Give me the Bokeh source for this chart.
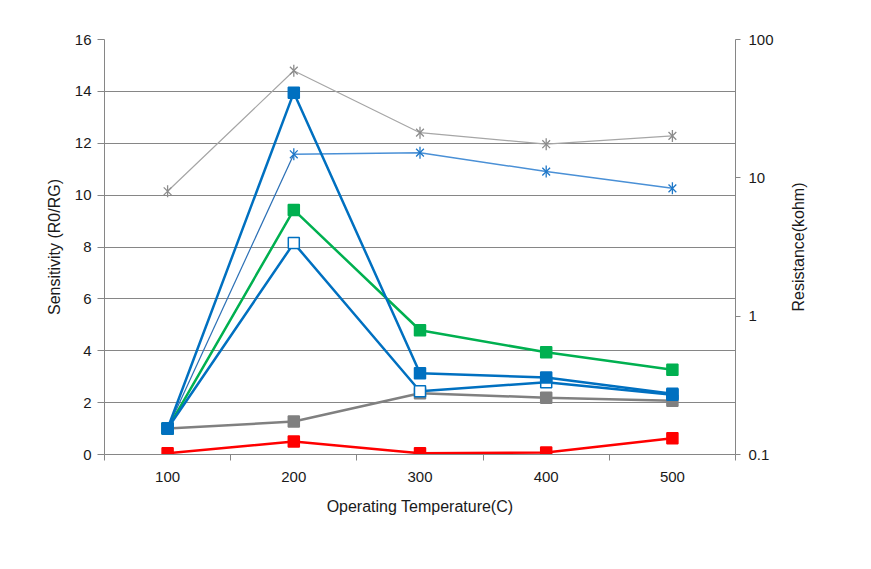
import math
from bokeh.plotting import figure
from bokeh.layouts import row
from bokeh.models import (Range1d, LogScale, LogAxis, FixedTicker, CustomJSTickFormatter,
                          SingleIntervalTicker, Label)
from bokeh.core.validation import silence
from bokeh.core.validation.warnings import MISSING_RENDERERS
from bokeh.embed import file_html
from bokeh.resources import INLINE

silence(MISSING_RENDERERS, True)

temps = [100, 200, 300, 400, 500]
temp_labels = ["100", "200", "300", "400", "500"]

# Sensitivity series (left axis)
sens_blue_filled = [1.0, 13.95, 3.13, 2.97, 2.34]
sens_blue_open = [1.0, 8.15, 2.44, 2.79, 2.30]
sens_green = [1.0, 9.43, 4.79, 3.94, 3.27]
sens_gray = [1.0, 1.27, 2.36, 2.19, 2.07]
sens_red = [0.05, 0.50, 0.05, 0.08, 0.63]

# Resistance series (right axis, kohm, log)
res_gray = [8.0, 59.5, 21.2, 17.5, 20.1]
res_blue = [0.154, 14.8, 15.2, 11.1, 8.4]

FONT = "Liberation Sans"
AXC = "#868686"
TXT = "#1a1a1a"

p = figure(width=780, height=548, x_range=(50, 550), y_range=(0, 16),
           output_backend="svg", toolbar_location=None,
           min_border_left=104, min_border_right=45, min_border_top=39, min_border_bottom=94,
           x_axis_label="Operating Temperature(C)", y_axis_label="Sensitivity (R0/RG)")
p.outline_line_color = None
p.background_fill_color = "white"
p.border_fill_color = "white"

p.extra_y_ranges = {"res": Range1d(0.1, 100)}
p.extra_y_scales = {"res": LogScale()}

# x axis
xa = p.xaxis[0]
xa.ticker = FixedTicker(ticks=temps, minor_ticks=[50, 150, 250, 350, 450, 550])
xa.major_label_overrides = {t: l for t, l in zip(temps, temp_labels)}
xa.major_tick_line_color = None
xa.minor_tick_line_color = AXC
xa.minor_tick_out = 6
xa.minor_tick_in = 0
xa.axis_line_color = AXC
xa.major_label_standoff = 11
xa.axis_label_standoff = 13

# left axis
ya = p.yaxis[0]
ya.ticker = SingleIntervalTicker(interval=2, num_minor_ticks=0)
ya.major_tick_line_color = AXC
ya.major_tick_out = 7
ya.major_tick_in = 0
ya.minor_tick_line_color = None
ya.axis_line_color = AXC
ya.major_label_standoff = 6
ya.axis_label_standoff = 9

# right axis
ra = LogAxis(y_range_name="res",
             ticker=FixedTicker(ticks=[0.1, 1, 10, 100]),
             formatter=CustomJSTickFormatter(code="return tick.toString();"))
ra.major_tick_line_color = AXC
ra.major_tick_out = 5
ra.major_tick_in = 0
ra.minor_tick_line_color = None
ra.axis_line_color = AXC
ra.major_label_standoff = 8
p.add_layout(ra, "right")

for ax in [xa, ya, ra]:
    ax.major_label_text_font = FONT
    ax.major_label_text_font_size = "15px"
    ax.major_label_text_color = TXT
    ax.axis_label_text_font = FONT
    ax.axis_label_text_font_style = "normal"
    ax.axis_label_text_color = TXT
    ax.axis_label_text_font_size = "16px"

p.xgrid.visible = False
p.ygrid.ticker = SingleIntervalTicker(interval=2, num_minor_ticks=0)
p.ygrid.grid_line_color = AXC
p.ygrid.grid_line_width = 1

# resistance series
def star(xs, ys, color):
    p.scatter(xs, ys, y_range_name="res", marker="x", size=11,
              line_color=color, line_width=1.3)
    p.scatter(xs, ys, y_range_name="res", marker="dash", angle=math.pi / 2, size=12,
              line_color=color, line_width=1.3)

p.line(temps, res_gray, y_range_name="res", line_color="#A6A6A6", line_width=1.2)
star(temps, res_gray, "#8C8C8C")
p.line(temps[:2], res_blue[:2], y_range_name="res", line_color="#2A6FB5", line_width=1.2)
p.line(temps[1:], res_blue[1:], y_range_name="res", line_color="#4A90D6", line_width=1.5)
star(temps[1:], res_blue[1:], "#1F78C8")

# sensitivity series
def series(vals, color, fill=None, lw=2.5):
    p.line(temps, vals, line_color=color, line_width=lw)
    p.scatter(temps, vals, marker="square", size=11, line_color=color,
              fill_color=fill if fill else color, line_width=1.5)

series(sens_red, "#FF0000")
series(sens_gray, "#808080")
series(sens_green, "#00B050")
series(sens_blue_open, "#0070C0", fill="white")
series(sens_blue_filled, "#0070C0")

# narrow companion figure carrying the right-axis title (reads bottom-to-top)
p2 = figure(width=40, height=548, x_range=(0, 1), y_range=(0, 16), output_backend="svg",
            toolbar_location=None, x_axis_location=None, y_axis_location=None,
            min_border_left=0, min_border_right=0, min_border_top=39, min_border_bottom=94)
p2.outline_line_color = None
p2.xgrid.visible = False
p2.ygrid.visible = False
p2.add_layout(Label(x=0.45, y=8, text="Resistance(kohm)", angle=math.pi / 2,
                    text_align="center", text_baseline="middle", text_font=FONT,
                    text_font_size="16px", text_color=TXT))

layout = row(p, p2, spacing=0)
open("out.html", "w").write(file_html(layout, INLINE))
